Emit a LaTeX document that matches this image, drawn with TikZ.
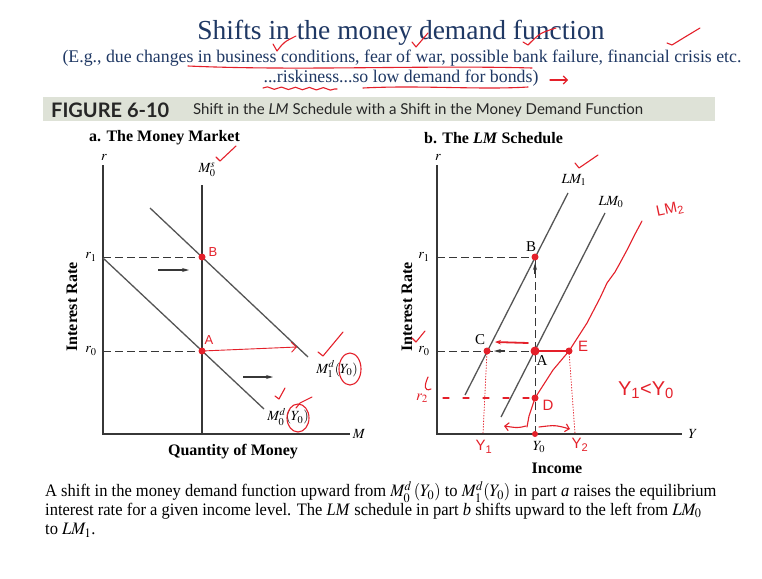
\documentclass[tikz,border=0pt]{standalone}
\usepackage{mathptmx}
\usepackage{fontspec}
\setmainfont{Liberation Serif}
\newfontfamily\headfont{Lato}
\newfontfamily\penfont{Liberation Sans}
\usepackage{tikz}
\usetikzlibrary{arrows.meta, positioning, calc, decorations.pathmorphing}

\definecolor{titleblue}{RGB}{31,56,100}
\definecolor{pen}{RGB}{228,32,42}
\definecolor{band}{RGB}{222,226,215}
\definecolor{axisgray}{RGB}{55,55,55}

\begin{document}
\begin{tikzpicture}[
    x=1pt, y=-1pt,
    >={Stealth[length=7pt, width=4pt]},
    every node/.style={inner sep=1pt},
    axis/.style={draw=axisgray, line width=1.1pt},
    curve/.style={draw=axisgray!85, line width=1.3pt},
    guide/.style={draw=axisgray, line width=1pt, dash pattern=on 8pt off 4pt},
    lab/.style={font=\fontsize{14}{16}\selectfont},
    axlab/.style={font=\bfseries\fontsize{16}{18}\selectfont},
    pen/.style={draw=pen, line width=1.1pt, line cap=round, line join=round},
    pentext/.style={text=pen, font=\penfont\fontsize{15}{17}\selectfont},
    dot/.style={circle, fill=pen, inner sep=0pt, minimum size=7pt}
]
\fill[white] (0,0) rectangle (762,578);
\useasboundingbox (0,0) rectangle (762,578);

% Title
\node[text=titleblue, font=\fontsize{27.5}{32}\selectfont] (title) at (401,33) {Shifts in the money demand function};
\node[text=titleblue, font=\fontsize{17.8}{21}\selectfont] (sub1) at (402,58)
    {(E.g., due changes in business conditions, fear of war, possible bank failure, financial crisis etc.};
\node[text=titleblue, font=\fontsize{17.8}{21}\selectfont] (sub2) at (401,78)
    {...riskiness...so low demand for bonds)};

% Figure header
\fill[band] (43,97) rectangle (715,121);
\node[anchor=west, font=\headfont\bfseries\fontsize{20}{22}\selectfont, text=black!85] (fig) at (50,110) {FIGURE 6-10};
\node[anchor=west, font=\headfont\fontsize{15}{17}\selectfont, text=black!85] (figcap) at (192,110)
    {Shift in the \textit{LM} Schedule with a Shift in the Money Demand Function};
\node[anchor=west, font=\bfseries\fontsize{16}{18}\selectfont] (pa) at (88,138) {a. The Money Market};
\node[anchor=west, font=\bfseries\fontsize{16}{18}\selectfont] (pb) at (423,138) {b. The \textit{LM} Schedule};

% Panel a: points
\coordinate (O1) at (103,434);
\coordinate (T1) at (103,165);
\coordinate (X1) at (350,434);
\coordinate (S1) at (202,185);
\coordinate (SB) at (202,434);
\coordinate (B1) at (202,257);
\coordinate (A1) at (202,351);
\coordinate (R1a) at (103,257);
\coordinate (R0a) at (103,351);
\coordinate (D1s) at (150,208);
\coordinate (D1e) at (308,357);
\coordinate (D0s) at (103,258);
\coordinate (D0e) at (264,409);

% Panel a: axes and schedules
\draw[axis] (T1) -- (O1) -- (X1);
\draw[axis] (S1) -- (SB);
\draw[curve] (D1s) -- (D1e);
\draw[curve] (D0s) -- (D0e);
\draw[guide] (R1a) -- (B1);
\draw[guide] (R0a) -- (A1);
\draw[axis, ->] (158,270) -- (189,270);
\draw[axis, ->] (243,377) -- (273,377);

\node[lab] (r1) at (104,157) {$r$};
\node[lab] (m1) at (359,434) {$M$};
\node[lab] (ms) at (207,170) {$M_0^s$};
\node[lab] at (91,257) {$r_1$};
\node[lab] at (91,351) {$r_0$};
\node[lab] (md1) at (337,369) {$M_1^d(Y_0)$};
\node[lab] (md0) at (288,417) {$M_0^d(Y_0)$};
\node[axlab] at (233,452) {Quantity of Money};
\node[axlab, rotate=90] at (72,307) {Interest Rate};

% Panel b: points
\coordinate (O2) at (437,434);
\coordinate (T2) at (437,165);
\coordinate (X2) at (682,434);
\coordinate (R1b) at (437,257);
\coordinate (R0b) at (437,351);
\coordinate (B2) at (535,257);
\coordinate (A2) at (535,351);
\coordinate (C2) at (487,351);
\coordinate (E2) at (569,351);
\coordinate (D2) at (535,398);
\coordinate (Y0p) at (535,434);
\coordinate (L1s) at (465,395);
\coordinate (L1e) at (568,193);
\coordinate (L0s) at (501,417);
\coordinate (L0e) at (605,213);

% Panel b: axes and schedules
\draw[axis] (T2) -- (O2) -- (X2);
\draw[curve] (L1s) -- (L1e);
\draw[curve] (L0s) -- (L0e);
\draw[guide] (R1b) -- (B2);
\draw[guide] (R0b) -- (A2);
\draw[guide] (Y0p) -- (B2);
\draw[axis, ->] (535,274) -- (535,263);
\draw[axis, ->] (505,351) -- (494,351);

\node[lab] at (438,157) {$r$};
\node[lab] at (693,434) {$Y$};
\node[lab] at (424,257) {$r_1$};
\node[lab] at (424,351) {$r_0$};
\node[lab] (lm1) at (574,180) {$LM_1$};
\node[lab] (lm0) at (611,202) {$LM_0$};
\node[font=\fontsize{15}{17}\selectfont] at (531,247) {B};
\node[font=\fontsize{15}{17}\selectfont] at (480,340) {C};
\node[font=\fontsize{15}{17}\selectfont] at (542,361) {A};
\node[lab] at (539,447) {$Y_0$};
\node[axlab] at (557,468) {Income};
\node[axlab, rotate=90] at (407,307) {Interest Rate};

% Caption
\begin{scope}[every node/.style={anchor=west, inner sep=0pt, font=\fontsize{17.5}{20}\selectfont}]
\node (cap1) at (45,492) {\scalebox{0.943}[1]{A shift in the money demand function upward from $M_0^d\,(Y_0)$ to $M_1^d(Y_0)$ in part \textit{a} raises the equilibrium}};
\node (cap2) at (45,511) {\scalebox{0.943}[1]{interest rate for a given income level. The \textit{LM} schedule in part \textit{b} shifts upward to the left from $LM_0$}};
\node (cap3) at (45,530) {\scalebox{0.943}[1]{to $LM_1$.}};
\end{scope}

% Pen notes: title
\draw[pen] (188,66) .. controls (300,71) and (420,65) .. (532,68);
\draw[pen, decorate, decoration={snake, amplitude=1.2pt, segment length=14pt}] (263,88) -- (337,89);
\draw[pen] (363,88) .. controls (420,85) and (480,90) .. (528,87);
\draw[pen, ->, >={Straight Barb[length=4pt]}] (550,80) -- (568,80);
\draw[pen] (273,44) -- (277,51) .. controls (284,42) .. (296,36);
\draw[pen] (412,42) -- (416,47) -- (428,33);
\draw[pen] (523,42) -- (528,45) .. controls (540,33) .. (556,28);
\draw[pen] (667,43) -- (672,45) .. controls (685,37) .. (700,28);

% Pen notes: panel a
\node[dot] at (B1) {};
\node[dot] at (A1) {};
\draw[pen, line width=0.9pt, ->, >={Straight Barb[length=5pt]}] (A1) -- (297,347);
\node[pentext, font=\penfont\fontsize{13}{15}\selectfont] at (213,252) {B};
\node[pentext, font=\penfont\fontsize{13}{15}\selectfont] at (209,340) {A};
\draw[pen] (216,157) -- (220,161) -- (236,146);
\draw[pen] (318,352) -- (323,356) -- (343,332);
\draw[pen] (350,369) ellipse (11pt and 16pt);
\draw[pen] (298,418) ellipse (11pt and 14pt);
\draw[pen] (275,396) -- (279,399) -- (285,388);
\draw[pen] (296,408) -- (300,403) -- (312,397);

% Pen notes: panel b
\coordinate (L2a) at (527,427);
\coordinate (L2e) at (642,221);
\draw[pen] (L2a) -- (529,416) -- (D2) -- (553,370) -- (E2) -- (587,323) -- (600,298) -- (607,283) -- (615,272) -- (620,263) -- (627,250) -- (634,236) -- (L2e);
\draw[pen, line width=1.8pt, ->, >={Stealth[length=6pt]}] (528,343) -- (495,342);
\draw[pen, line width=1.8pt] (A2) -- (E2);
\draw[pen, dash pattern=on 6pt off 14pt] (443,398) -- (D2);
\draw[pen, line width=0.8pt, dotted] (C2) -- (483,434);
\draw[pen, line width=0.8pt, dotted] (E2) -- (575,434);
\draw[pen, ->, >={Straight Barb[length=4pt]}] (526,426) .. controls (518,428) .. (504,426);
\draw[pen, ->, >={Straight Barb[length=4pt]}] (539,427) .. controls (555,425) .. (570,429);
\node[dot] at (B2) {};
\node[dot, minimum size=9pt] at (A2) {};
\node[dot] at (C2) {};
\node[dot] at (E2) {};
\node[dot] at (D2) {};
\node[dot, minimum size=6pt] at (Y0p) {};
\node[pentext] at (548,405) {D};
\node[pentext] at (583,346) {E};
\node[pentext, rotate=12] at (670,210) {LM\textsubscript{2}};
\node[pentext] at (422,398) {$r_2$};
\node[pentext] at (484,447) {Y\textsubscript{1}};
\node[pentext] at (580,445) {Y\textsubscript{2}};
\node[pentext, font=\penfont\fontsize{20}{22}\selectfont] at (646,390) {Y\textsubscript{1}<Y\textsubscript{0}};
\draw[pen] (412,338) -- (416,342) -- (425,331);
\draw[pen] (428,377) .. controls (424,386) and (424,392) .. (431,389);
\draw[pen] (575,163) -- (579,168) -- (598,155);

\end{tikzpicture}
\end{document}
